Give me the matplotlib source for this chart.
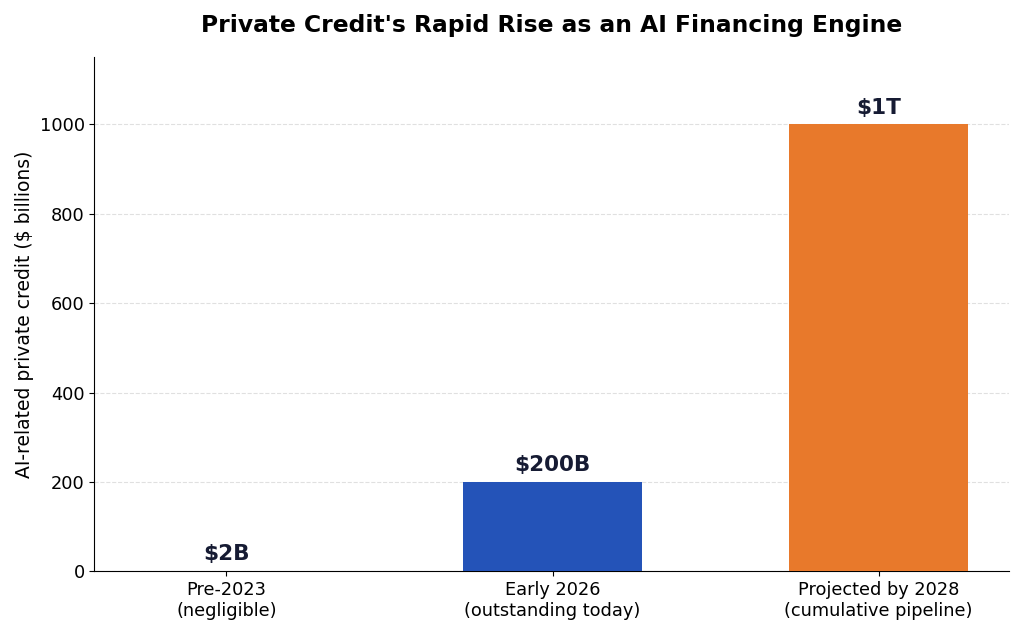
import matplotlib.pyplot as plt

# Data
categories = ["Pre-2023\n(negligible)", "Early 2026\n(outstanding today)", "Projected by 2028\n(cumulative pipeline)"]
values = [2, 200, 1000]
labels = ["$2B", "$200B", "$1T"]
colors = ["#94a3b8", "#2453b8", "#e8792b"]

fig, ax = plt.subplots(figsize=(10.24, 6.35), dpi=100)
x = range(len(categories))
bars = ax.bar(x, values, width=0.55, color=colors, zorder=3)

for b, lab in zip(bars, labels):
    ax.text(b.get_x() + b.get_width() / 2, b.get_height() + 15, lab,
            ha="center", va="bottom", fontsize=15.5, fontweight="bold", color="#161b33")

ax.set_xticks(list(x))
ax.set_xticklabels(categories, fontsize=12.8)
ax.tick_params(axis="y", labelsize=12.8)
ax.set_ylabel("AI-related private credit ($ billions)", fontsize=13.5)
ax.set_title("Private Credit's Rapid Rise as an AI Financing Engine",
             fontsize=16.8, fontweight="bold", pad=18)
ax.set_xlim(-0.405, 2.4)
ax.set_ylim(0, 1150)
ax.yaxis.grid(True, linestyle="--", color="#e0e0e0", zorder=0)
ax.spines["top"].set_visible(False)
ax.spines["right"].set_visible(False)

plt.tight_layout()
plt.subplots_adjust(top=0.91)
plt.savefig("out.png")
